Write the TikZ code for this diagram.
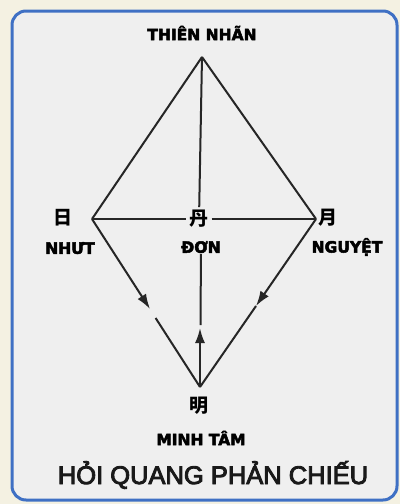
\documentclass[tikz,border=0pt]{standalone}
\usepackage{fontspec}
\setmainfont{Liberation Sans}
\newfontfamily\labfont{DejaVu Sans Bold}
\newfontfamily\cjkfont{Noto Sans CJK SC}
\usetikzlibrary{arrows.meta}
\newcommand\heavytext[2]{\special{pdf:literal direct 2 Tr #1 w}#2\special{pdf:literal direct 0 Tr}}
\definecolor{bgout}{HTML}{F4F1E2}
\definecolor{bgin}{HTML}{EFEFEF}
\definecolor{framecol}{HTML}{3F70C4}
\definecolor{ink}{HTML}{262626}
\tikzset{
  lbl/.style={font=\labfont\fontsize{15.5}{18}\selectfont, text=black, inner sep=1pt},
  han/.style={font=\cjkfont\bfseries\fontsize{19}{22}\selectfont, text=black, inner sep=1pt},
  ttl/.style={font=\fontsize{25.5}{28}\selectfont, text=black!90, inner sep=1pt},
  ln/.style={draw=ink, line width=2pt},
  arr/.style={ln, -{Latex[length=15pt,width=10pt]}}
}
\begin{document}
\begin{tikzpicture}[x=1pt,y=-1pt]
\fill[bgout] (0,0) rectangle (400,504);
\useasboundingbox (0,0) rectangle (400,504);
\draw[framecol, line width=3pt, fill=bgin, rounded corners=14pt] (12,11) rectangle (397,500);

\node[lbl] (thien) at (202,33) {\heavytext{0.5}{THIÊN NHÃN}};
\coordinate (top) at (202,57);
\coordinate (L) at (92,219);
\coordinate (R) at (316,219);
\coordinate (B) at (200,387);
\node[han, inner sep=3pt] (dan) at (199,219) {丹};
\node[lbl] (don) at (201,247) {\heavytext{0.5}{ĐƠN}};
\node[han] (nhat) at (63,218) {日};
\node[lbl] (nhut) at (70,248) {\heavytext{0.5}{NHƯT}};
\node[han] (nguyet) at (328,218) {月};
\node[lbl] (ngt) at (347,247) {\heavytext{0.5}{NGUYỆT}};
\node[han] (minh) at (199,406) {明};
\node[lbl] (tam) at (201,438) {\heavytext{0.5}{MINH TÂM}};
\node[ttl] (hqpc) at (213,475) {\heavytext{0.9}{HỎI QUANG PHẢN CHIẾU}};

\coordinate (la) at (150,309);
\coordinate (lb) at (155.6,318);
\coordinate (ra) at (256,306);
\coordinate (va) at (200,328);
\coordinate (vb) at (200.5,325);

\draw[ln] (top) -- (L);
\draw[ln] (top) -- (R);
\draw[ln] (top) -- (dan);
\draw[ln] (L) -- (dan);
\draw[ln] (dan) -- (R);
\draw[arr] (L) -- (la);
\draw[ln] (lb) -- (B);
\draw[arr] (R) -- (ra);
\draw[ln] (ra) -- (B);
\draw[ln] (don) -- (vb);
\draw[arr] (B) -- (va);
\end{tikzpicture}
\end{document}
